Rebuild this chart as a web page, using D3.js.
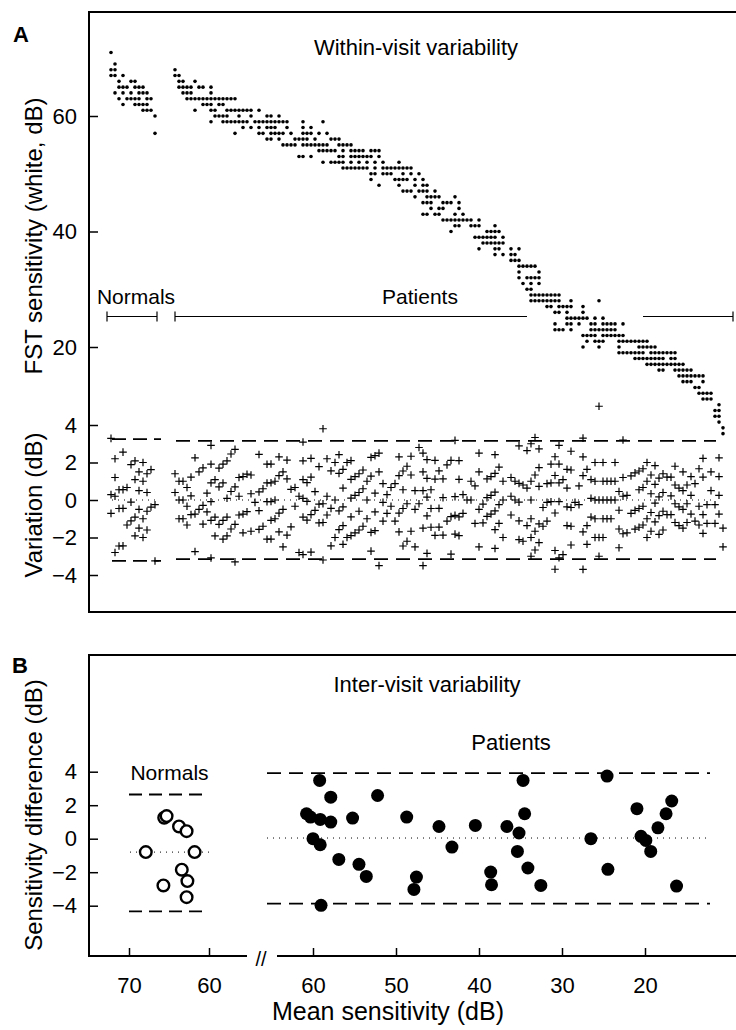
<!DOCTYPE html>
<html><head><meta charset="utf-8">
<script src="https://cdn.jsdelivr.net/npm/d3@7"></script>
<style>body{margin:0;background:#fff} text{font-family:"Liberation Sans", Arial, sans-serif;fill:#000}</style>
</head><body><svg id="c" width="736" height="1030"></svg>
<script>
// ---------- DATA ----------
// Panel A, within-visit: FST sensitivity (dB) per test column, as runs [dB, firstColumn, lastColumn]
const normalDotRuns = [
 [71,1,1],[69,2,2],[68,1,2],[67,1,2],[67,4,4],[66,3,3],[66,6,7],[65,3,5],[65,7,9],
 [64,2,2],[64,4,4],[64,6,6],[64,8,10],[63,3,3],[63,5,8],[63,10,11],[62,4,4],[62,7,10],
 [61,9,11],[60,12,12],[57,12,12]
];
const patientDotRuns = [
 [68,17,17],[67,17,18],[66,18,19],[66,22,22],[65,18,21],[65,23,24],[65,26,26],
 [64,19,21],[64,26,26],[63,20,21],[63,22,30],[63,31,32],[62,24,26],[62,28,29],
 [61,22,22],[61,26,27],[61,30,36],[61,38,38],
 [60,27,27],[60,28,30],[60,33,33],[60,36,36],[60,40,41],[60,43,43],
 [59,26,26],[59,29,35],[59,37,39],[59,40,44],[59,45,45],[59,49,49],[59,54,54],
 [58,34,34],[58,36,36],[58,38,38],[58,40,42],[58,45,45],[58,49,49],[58,51,51],
 [57,32,32],[57,38,39],[57,41,44],[57,46,46],[57,49,51],[57,53,53],[57,55,55],
 [56,40,41],[56,43,43],[56,47,48],[56,49,50],[56,52,52],[56,56,58],
 [55,44,47],[55,49,55],[55,58,61],
 [54,53,57],[54,59,59],[54,61,64],[54,66,68],
 [53,48,49],[53,51,51],[53,58,59],[53,61,66],[53,68,68],
 [52,54,54],[52,56,59],[52,61,61],[52,63,63],[52,65,65],[52,67,67],[52,69,69],[52,73,73],
 [51,59,65],[51,67,67],[51,69,76],
 [50,66,67],[50,69,71],[50,74,74],[50,76,76],[50,78,78],
 [49,66,66],[49,72,75],[49,77,77],[49,79,79],
 [48,68,68],[48,73,73],[48,77,77],[48,79,80],
 [47,74,76],[47,78,80],[47,82,82],
 [46,77,77],[46,80,83],[46,87,87],
 [45,79,81],[45,84,86],[45,88,88],
 [44,81,81],[44,83,84],[44,88,88],
 [43,79,80],[43,82,83],[43,87,87],[43,89,89],
 [42,84,86],[42,87,91],[42,93,93],
 [41,87,88],[41,91,93],[41,97,97],
 [40,86,86],[40,95,97],[40,98,98],
 [39,92,97],[39,99,99],
 [38,94,97],[38,98,99],
 [37,93,93],[37,97,98],[37,101,101],[37,103,103],
 [36,97,97],[36,99,99],[36,101,102],
 [35,101,103],[34,103,107],[33,103,103],[33,108,108],
 [32,103,103],[32,105,107],[32,108,108],
 [31,104,104],[31,106,106],[31,108,108],
 [30,105,106],[29,106,113],
 [28,106,107],[28,108,110],[28,111,113],[28,116,116],[28,123,123],
 [27,110,111],[27,113,116],[27,119,119],
 [26,112,113],[26,115,115],[26,119,119],
 [25,115,120],[25,122,122],[25,124,124],
 [24,112,112],[24,115,116],[24,118,118],[24,121,122],[24,124,127],[24,129,129],
 [23,112,114],[23,116,116],[23,121,127],
 [22,119,122],[22,124,128],[22,129,129],
 [21,120,120],[21,122,124],[21,128,135],
 [20,119,119],[20,123,123],[20,128,128],[20,133,137],
 [19,128,134],[19,136,141],[19,142,142],
 [18,132,135],[18,136,139],[18,141,142],
 [17,135,138],[17,139,144],
 [16,138,139],[16,142,146],
 [15,143,149],[14,144,146],[14,149,149],
 [13,147,148],[12,148,151],[11,149,151],
 [10,153,153],[9,152,153],[8,152,153],[7,153,153],[6,154,154],[5,154,154]
];
const fstTicks = [60, 40, 20];
const variationTicks = [4, 2, 0, -2, -4];
const withinNormalLimits = [-3.25, 0, 3.25];   // lower, mean, upper
const withinPatientLimits = [-3.15, 0, 3.15];

// Panel B, inter-visit: [mean sensitivity (dB), sensitivity difference (dB)]
const interNormals = [
 [65.6,1.25],[65.3,1.35],[63.75,0.73],[62.8,0.45],[67.9,-0.8],[61.8,-0.8],
 [63.4,-1.85],[65.7,-2.79],[62.7,-2.53],[62.8,-3.49]
];
const interPatients = [
 [59.2,3.48],[57.86,2.48],[60.78,1.49],[60.3,1.29],[59.13,1.15],[57.86,0.99],[55.23,1.23],
 [52.22,2.58],[48.71,1.29],[44.82,0.73],[40.44,0.79],[36.64,0.73],[35.18,0.34],[34.69,3.48],
 [34.5,1.49],[60.0,0.0],[59.13,-0.36],[56.89,-1.24],[54.46,-1.53],[53.58,-2.25],[47.54,-2.29],
 [47.84,-3.03],[43.26,-0.5],[38.59,-1.99],[38.49,-2.75],[35.37,-0.76],[34.11,-1.75],[32.55,-2.79],
 [59.03,-3.98],[26.52,0.0],[24.57,3.74],[24.47,-1.83],[20.97,1.79],[20.48,0.14],[19.9,-0.1],
 [19.31,-0.76],[18.44,0.65],[17.46,1.49],[16.78,2.25],[16.2,-2.83]
];
const interNormalLimits = [-4.34, -0.8, 2.64];
const interPatientLimits = [-3.88, 0.04, 3.92];
const diffTicks = [4, 2, 0, -2, -4];
const normalMeanTicks = [70, 60];
const patientMeanTicks = [60, 50, 40, 30, 20];

// ---------- DRAW ----------
const svg = d3.select("#c");
const TICKFONT = 22;

function expand(runs){
  const out=[];
  runs.forEach(([v,a,b])=>{ for(let k=a;k<=b;k++) out.push({k, v}); });
  return out;
}
function withDeviation(dots, w){
  return dots.map(d=>{
    const nb = dots.filter(e=>Math.abs(e.k-d.k)<=w);
    const m = d3.mean(nb, e=>e.v);
    return {k:d.k, v:d.v, dev:d.v-m};
  });
}
const normDots = withDeviation(expand(normalDotRuns), 1);
const patDots = withDeviation(expand(patientDotRuns), 1);

// Panel A scales
const xA = d3.scaleLinear().domain([0,157]).range([107,735]);
const yFST = d3.scaleLinear().domain([60,20]).range([116,347]);
const yVar = d3.scaleLinear().domain([4,-4]).range([425,575]);

const gA = svg.append("g");
gA.append("path").attr("d","M737,12H89V612H737").attr("fill","none").attr("stroke","#000").attr("stroke-width",2);

function styleAxis(g){
  g.select(".domain").remove();
  g.selectAll("line").attr("stroke-width",1.5);
  g.selectAll("text").style("font-size",TICKFONT+"px").attr("font-family",null);
}
const axF = d3.axisLeft(yFST).tickValues(fstTicks).tickSize(-9).tickPadding(12).tickFormat(d3.format("d"));
styleAxis(gA.append("g").attr("transform","translate(89,0)").call(axF));
const axV = d3.axisLeft(yVar).tickValues(variationTicks).tickSize(-9).tickPadding(12).tickFormat(d3.format("d"));
styleAxis(gA.append("g").attr("transform","translate(89,0)").call(axV));

const dotG = gA.append("g");
dotG.selectAll("circle").data(normDots.concat(patDots)).join("circle")
  .attr("cx",d=>xA(d.k)).attr("cy",d=>yFST(d.v)).attr("r",1.8).attr("fill","#000");

function hline(g, x0, x1, y, dash, w){
  g.append("line").attr("x1",x0).attr("x2",x1).attr("y1",y).attr("y2",y)
   .attr("stroke","#000").attr("stroke-width",w).attr("stroke-dasharray",dash);
}
hline(gA, 112, 161, yVar(withinNormalLimits[2]), "14,7", 1.8);
hline(gA, 112, 161, yVar(withinNormalLimits[0]), "14,7", 1.8);
hline(gA, 112, 156, yVar(withinNormalLimits[1]), "1,5", 1);
hline(gA, 176, 716, yVar(withinPatientLimits[2]), "14,8", 1.8);
hline(gA, 176, 716, yVar(withinPatientLimits[0]), "14,8", 1.8);
hline(gA, 176, 716, yVar(withinPatientLimits[1]), "1,5", 1);

const crossPath = "M-3.8,0H3.8M0,-3.8V3.8";
gA.append("g").selectAll("path").data(normDots.concat(patDots)).join("path")
  .attr("d",crossPath).attr("transform",d=>`translate(${xA(d.k)},${yVar(d.dev)})`)
  .attr("stroke","#000").attr("stroke-width",1.2).attr("fill","none");

function bracket(g,x0,x1,y,t0,t1){
  g.append("line").attr("x1",x0).attr("x2",x1).attr("y1",y).attr("y2",y).attr("stroke","#000").attr("stroke-width",1.2);
  if(t0) g.append("line").attr("x1",x0).attr("x2",x0).attr("y1",y-5).attr("y2",y+5).attr("stroke","#000").attr("stroke-width",1.2);
  if(t1) g.append("line").attr("x1",x1).attr("x2",x1).attr("y1",y-5).attr("y2",y+5).attr("stroke","#000").attr("stroke-width",1.2);
}
bracket(gA,107,157,316.5,true,true);
bracket(gA,175,527,316.5,true,false);
bracket(gA,643,733,316.5,false,true);

function txt(x,y,s,size,anchor,weight,rot){
  const t = svg.append("text").attr("x",x).attr("y",y).text(s).style("font-size",size+"px")
    .attr("text-anchor",anchor||"middle");
  if(weight) t.attr("font-weight",weight);
  if(rot) t.attr("transform",`rotate(-90,${x},${y})`);
  return t;
}
txt(13,42,"A",22,"start","bold");
txt(416,55,"Within-visit variability",22);
txt(136,304,"Normals",21);
txt(420,304,"Patients",21);
txt(42,236,"FST sensitivity (white, dB)",24,"middle",null,true);
txt(42,505,"Variation (dB)",24,"middle",null,true);

// ---------- Panel B ----------
const yB = d3.scaleLinear().domain([4,-4]).range([771.7,905.7]);
const xBn = d3.scaleLinear().domain([70,60]).range([129,209]);
const xBp = d3.scaleLinear().domain([60,20]).range([313,645]);
const gB = svg.append("g");
gB.append("path").attr("d","M737,655H89V956H247").attr("fill","none").attr("stroke","#000").attr("stroke-width",2);
gB.append("line").attr("x1",277).attr("x2",737).attr("y1",956).attr("y2",956).attr("stroke","#000").attr("stroke-width",2);
txt(261,966,"//",20);

const axB = d3.axisLeft(yB).tickValues(diffTicks).tickSize(-9).tickPadding(12).tickFormat(d3.format("d"));
styleAxis(gB.append("g").attr("transform","translate(89,0)").call(axB));
const axBn = d3.axisBottom(xBn).tickValues(normalMeanTicks).tickSize(-8).tickPadding(21).tickFormat(d3.format("d"));
styleAxis(gB.append("g").attr("transform","translate(0,956)").call(axBn));
const axBp = d3.axisBottom(xBp).tickValues(patientMeanTicks).tickSize(-8).tickPadding(21).tickFormat(d3.format("d"));
styleAxis(gB.append("g").attr("transform","translate(0,956)").call(axBp));

hline(gB, 129, 209, yB(interNormalLimits[2]), "13,7", 1.8);
hline(gB, 129, 209, yB(interNormalLimits[0]), "13,7", 1.8);
hline(gB, 130, 209, yB(interNormalLimits[1]), "1,5", 1);
hline(gB, 267, 710, yB(interPatientLimits[2]), "14,8", 1.8);
hline(gB, 267, 710, yB(interPatientLimits[0]), "14,8", 1.8);
hline(gB, 267, 710, yB(interPatientLimits[1]), "1,5", 1);

gB.append("g").selectAll("circle").data(interNormals).join("circle")
  .attr("cx",d=>xBn(d[0])).attr("cy",d=>yB(d[1])).attr("r",5.8)
  .attr("fill","#fff").attr("stroke","#000").attr("stroke-width",2.4);
gB.append("g").selectAll("circle").data(interPatients).join("circle")
  .attr("cx",d=>xBp(d[0])).attr("cy",d=>yB(d[1])).attr("r",6.5).attr("fill","#000");

txt(12,673,"B",22,"start","bold");
txt(427,692,"Inter-visit variability",22);
txt(169.5,780,"Normals",21);
txt(511,750,"Patients",22);
txt(42,815,"Sensitivity difference (dB)",24,"middle",null,true);
txt(388,1020,"Mean sensitivity (dB)",25);
</script></body></html>
